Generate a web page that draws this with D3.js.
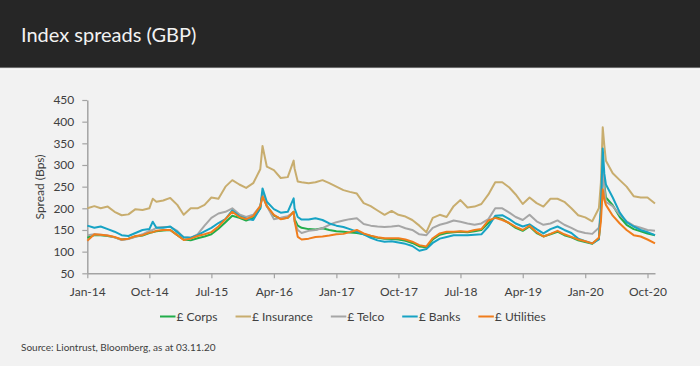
<!DOCTYPE html>
<html><head><meta charset="utf-8">
<script src="https://cdn.jsdelivr.net/npm/d3@7"></script>
<style>
html,body{margin:0;padding:0;background:#f2f2f2;}
svg{display:block;font-family:Lato,"Open Sans",sans-serif;}
</style></head><body>
<svg id="c" width="700" height="366"></svg>
<script>
const dates = [
"2014-01-01","2014-02-01","2014-03-01","2014-04-01","2014-05-01","2014-06-01","2014-07-01","2014-08-01","2014-09-01","2014-10-01","2014-10-16","2014-11-01","2014-12-01",
"2015-01-01","2015-02-01","2015-03-01","2015-04-01","2015-05-01","2015-06-01","2015-07-01","2015-08-01","2015-09-01","2015-10-01","2015-11-01","2015-12-01",
"2016-01-01","2016-02-01","2016-02-11","2016-03-01","2016-04-01","2016-05-01","2016-06-01","2016-06-27","2016-07-01","2016-07-15","2016-08-01","2016-09-01","2016-10-01","2016-11-01","2016-12-01",
"2017-01-01","2017-02-01","2017-03-01","2017-04-01","2017-05-01","2017-06-01","2017-07-01","2017-08-01","2017-09-01","2017-10-01","2017-11-01","2017-12-01",
"2018-01-01","2018-02-01","2018-03-01","2018-04-01","2018-05-01","2018-06-01","2018-07-01","2018-08-01","2018-09-01","2018-10-01","2018-11-01","2018-12-01",
"2019-01-01","2019-02-01","2019-03-01","2019-04-01","2019-05-01","2019-06-01","2019-07-01","2019-08-01","2019-09-01","2019-10-01","2019-11-01","2019-12-01",
"2020-01-01","2020-02-01","2020-03-01","2020-03-10","2020-03-18","2020-03-25","2020-04-01","2020-05-01","2020-06-01","2020-07-01","2020-08-01","2020-09-01","2020-10-01","2020-11-03"];

const corps = [
132,138,138,136,133,128,130,135,137,143,145,147,149,
150,138,128,126,131,135,140,153,168,183,178,172,
178,200,235,205,183,176,178,192,175,160,155,152,151,154,150,
147,146,144,143,140,136,132,130,129,128,125,120,
112,110,128,139,143,145,146,145,147,150,166,180,
175,165,155,148,158,143,135,140,146,138,133,126,
122,118,130,190,300,255,225,207,180,162,152,147,142,138];

const insurance = [
200,205,200,204,192,184,186,198,196,200,222,215,218,
224,208,185,200,200,208,225,222,250,265,255,247,
258,290,344,296,288,270,272,310,292,262,260,258,260,265,258,
250,242,238,234,212,205,195,185,194,185,181,173,
160,145,178,185,180,205,219,202,204,210,232,260,
260,248,232,210,225,212,204,222,222,215,200,184,
179,170,200,260,387,345,310,281,265,250,228,225,225,211];

const telco = [
138,140,139,137,133,127,129,134,140,148,150,155,157,
157,148,133,132,140,160,178,188,192,200,186,180,
185,205,232,205,175,178,182,190,170,150,143,148,150,154,162,
168,172,175,177,164,160,158,157,158,160,154,150,
140,138,155,162,166,172,169,165,162,165,175,200,
200,190,180,173,185,170,162,165,172,162,155,147,
143,141,155,195,285,250,215,205,185,170,160,155,150,148];

const banks = [
160,155,158,152,146,138,136,143,150,152,169,155,155,
158,145,133,132,138,147,155,166,175,195,182,176,
173,200,246,215,198,190,192,223,200,180,174,174,177,173,165,
160,157,152,146,140,132,126,123,124,121,118,113,
102,106,120,130,134,138,138,138,139,140,158,183,
184,175,165,158,163,152,142,152,158,150,143,130,
124,119,128,200,338,280,255,225,190,168,158,150,145,138];

const utilities = [
125,140,139,137,134,128,130,136,138,144,145,148,150,
150,138,127,130,136,140,145,158,175,192,180,175,
182,205,227,205,185,175,178,192,172,134,128,130,134,135,137,
140,141,145,150,142,137,133,131,131,131,128,123,
115,112,131,142,146,146,147,146,150,152,172,178,
173,166,157,150,160,145,135,141,148,140,134,128,
124,119,132,170,244,220,208,183,165,150,138,135,128,119];

const seriesNames = ["£ Corps","£ Insurance","£ Telco","£ Banks","£ Utilities"];
const seriesValues = [corps, insurance, telco, banks, utilities];
const seriesColors = ["#22ad4a","#c8ad6e","#a6a6a6","#17a3c4","#f07d1c"];
const yTicks = [50,100,150,200,250,300,350,400,450];
const xTicks = ["2014-01-01","2014-10-01","2015-07-01","2016-04-01","2017-01-01","2017-10-01","2018-07-01","2019-04-01","2020-01-01","2020-10-01"];
const xDomain = ["2014-01-01","2020-11-03"];

const parse = d3.utcParse("%Y-%m-%d");
const fmt = d3.utcFormat("%b-%y");
const svg = d3.select("#c");

// background & header
svg.append("rect").attr("width",700).attr("height",366).attr("fill","#f2f2f2");
svg.append("rect").attr("width",700).attr("height",67).attr("fill","#262626");
svg.append("rect").attr("y",67).attr("width",700).attr("height",1.3).attr("fill","#6b6b6b");
svg.append("rect").attr("y",68.3).attr("width",700).attr("height",1.2).attr("fill","#fbfbfb");
svg.append("text").attr("x",21).attr("y",42).attr("fill","#f2f2f2")
  .attr("font-size",20).text("Index spreads (GBP)");

const x = d3.scaleUtc().domain(xDomain.map(parse)).range([87.3,655]);
const y = d3.scaleLinear().domain([50,450]).range([273.3,100]);

const axisColor = "#a3a3a3", textColor = "#404040";

const gy = svg.append("g").attr("transform","translate(87.3,0)")
  .call(d3.axisLeft(y).tickValues(yTicks).tickSize(5).tickSizeOuter(0).tickPadding(8));
const gx = svg.append("g").attr("transform","translate(0,273.3)")
  .call(d3.axisBottom(x).tickValues(xTicks.map(parse)).tickFormat(fmt).tickSize(5).tickSizeOuter(0).tickPadding(9));
[gx,gy].forEach(g=>{
  g.select(".domain").attr("stroke",axisColor).attr("stroke-width",1.5);
  g.selectAll(".tick line").attr("stroke",axisColor).attr("stroke-width",1.2);
  g.selectAll(".tick text").attr("fill",textColor).attr("font-size",12).attr("font-family","Lato");
});

svg.append("text").attr("transform","translate(39,187) rotate(-90)")
  .attr("text-anchor","middle").attr("dominant-baseline","central")
  .attr("fill",textColor).attr("font-size",12).text("Spread (Bps)");

const line = d3.line().x(d=>x(d.date)).y(d=>y(d.v));
const parsedDates = dates.map(parse);
seriesValues.forEach((vals,i)=>{
  const data = vals.map((v,j)=>({date:parsedDates[j], v}));
  svg.append("path").datum(data).attr("d",line)
    .attr("fill","none").attr("stroke",seriesColors[i]).attr("stroke-width",2)
    .attr("stroke-linejoin","round");
});

// legend
let lx = 160;
const ly = 316.5;
seriesNames.forEach((n,i)=>{
  svg.append("line").attr("x1",lx).attr("x2",lx+15.5).attr("y1",ly).attr("y2",ly)
    .attr("stroke",seriesColors[i]).attr("stroke-width",2);
  const t = svg.append("text").attr("x",lx+16.5).attr("y",ly+4.2).attr("fill",textColor)
    .attr("font-size",12).text(n);
  lx += 16.5 + t.node().getComputedTextLength() + 18;
});

svg.append("text").attr("x",21).attr("y",350.5).attr("fill",textColor)
  .attr("font-size",10).text("Source: Liontrust, Bloomberg, as at 03.11.20");
</script>
</body></html>
